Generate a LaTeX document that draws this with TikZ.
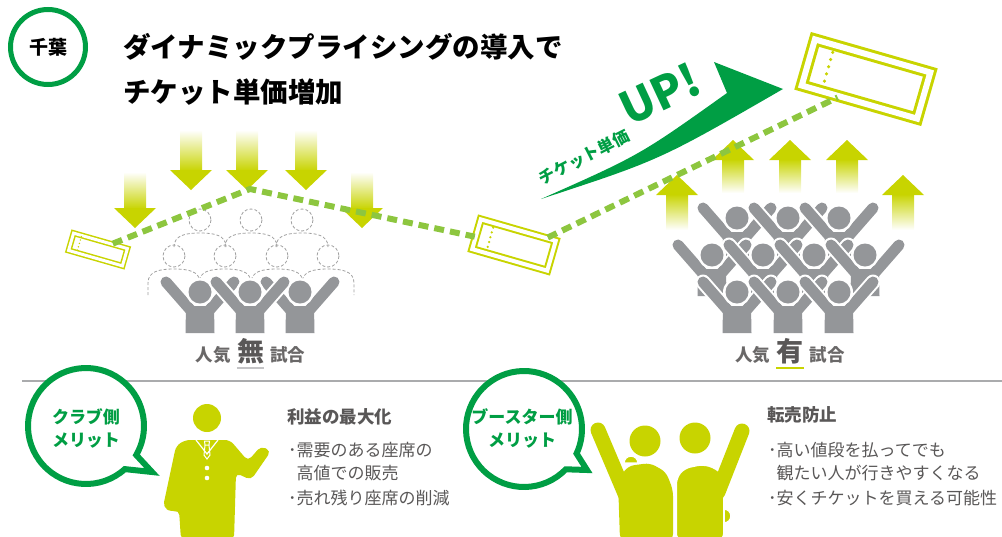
\documentclass[tikz,border=0pt]{standalone}
\usepackage{fontspec}
\setmainfont{Noto Sans CJK JP}
\newfontfamily\heavyfont{Noto Sans CJK JP Black}
\usetikzlibrary{calc,positioning}

\definecolor{chibagreen}{RGB}{0,158,68}
\definecolor{leaf}{RGB}{200,212,0}
\definecolor{dashgreen}{RGB}{141,198,63}
\definecolor{fangrey}{RGB}{148,150,153}
\definecolor{textgrey}{RGB}{89,87,87}
\definecolor{rulegrey}{RGB}{170,171,173}

% 文字サイズ（1pt = 1px）
\newcommand{\fsz}[1]{\fontsize{#1}{#1}\selectfont}

\tikzset{
  % 観客（両手を上げた人）
  pics/fan/.style={code={
    \draw[white, line width=15, line cap=round] (-34,-10) -- (-6,22) (34,-10) -- (6,22);
    \fill[white] (-16,11) -- (16,11) -- (16.5,43) -- (-16.5,43) -- cycle;
    \draw[fangrey, line width=11, line cap=round] (-34,-10) -- (-6,22) (34,-10) -- (6,22);
    \fill[fangrey] (-14,14) -- (14,14) -- (14.5,41) -- (-14.5,41) -- cycle;
    \fill[white] (0,0) circle (14);
    \fill[fangrey] (0,0) circle (11.5);
  }},
  % 空席（点線の人）
  pics/ghost/.style={code={
    \draw[ghostline] (0,0) circle (11);
    \draw[ghostline] (-26,#1) -- (-26,27) .. controls (-26,15) and (-14,13) .. (0,13)
      .. controls (14,13) and (26,15) .. (26,27) -- (26,#1);
  }},
  ghostline/.style={gray!75, line width=0.8, dash pattern=on 3pt off 2pt},
  ticket/.style={draw=leaf, double=white, rotate=-16, inner sep=0pt},
  tkdots/.style={leaf, line cap=round},
  trail/.style={dashgreen, line width=6, dash pattern=on 10pt off 6pt},
  titletext/.style={font=\heavyfont\fsz{27.5}, inner sep=0pt, anchor=west},
  poptext/.style={text=textgrey!90, font=\bfseries\fsz{17.5}, inner sep=0pt},
  popkey/.style={text=textgrey, font=\bfseries\fsz{27}, inner sep=0pt},
  bubble/.style={chibagreen, fill=white, line width=6},
  bubbletext/.style={text=chibagreen, font=\bfseries\fontsize{17}{23}\selectfont, align=center},
  merithead/.style={text=textgrey, font=\bfseries\fsz{17.5}, inner sep=0pt, anchor=west},
  merittext/.style={text=textgrey, font=\fsz{17}, inner sep=0pt, anchor=west},
}

\begin{document}
\begin{tikzpicture}[x=1pt, y=-1pt]
  \clip (0,0) rectangle (1002,536);

  % 見出し
  \node[circle, draw=chibagreen, line width=5, minimum size=75, font=\bfseries\fsz{19}] (chiba) at (48,47) {千葉};
  \node[titletext] (title1) at (123,47) {ダイナミックプライシングの導入で};
  \node[titletext] (title2) at (123,92) {チケット単価増加};

  % 人気のない試合：下向きの矢印
  \foreach \x/\t/\h/\e in {135/172/208/228, 191/130/170/190, 247/130/170/190, 306/130/170/190, 362/172/208/228}{
    \shade[top color=white, middle color=leaf!85, bottom color=leaf] (\x-11,\t) rectangle (\x+11,\h+1);
    \fill[leaf] (\x-21,\h) -- (\x+21,\h) -- (\x,\e) -- cycle;
  }
  % 空席と観客
  \foreach \x in {200,251,302} \pic at (\x,220) {ghost=27};
  \foreach \x in {174,225,277,328} \pic at (\x,256) {ghost=39};
  \foreach \x in {200,300,250} \pic at (\x,292) {fan};

  % 人気のある試合：上向きの矢印
  \foreach \x/\e/\h/\b in {677/175/195/230, 733/140/160/193, 790/140/160/193, 847/140/160/193, 903/175/195/230}{
    \shade[top color=leaf, middle color=leaf!85, bottom color=white] (\x-11,\h-1) rectangle (\x+11,\b);
    \fill[leaf] (\x-21,\h) -- (\x+21,\h) -- (\x,\e) -- cycle;
  }
  \foreach \x in {737,788,839} \pic at (\x,218) {fan};
  \foreach \x in {712,763,814,865} \pic at (\x,255) {fan};
  \foreach \x in {737,788,839} \pic at (\x,292) {fan};

  % チケット単価UP
  \fill[chibagreen] (541,199) .. controls (640,155) .. (727,93) -- (714,62) -- (783,89) .. controls (660,160) .. (541,199) -- cycle;
  \node[rotate=27, text=chibagreen, font=\bfseries\fsz{16.5}, inner sep=0pt] (tanka) at (584,157) {チケット単価};
  \node[rotate=25, text=chibagreen, font=\heavyfont\fsz{45}, inner sep=0pt] (up) at (660,94) {UP!};

  % チケット
  \node[ticket, line width=1.5, double distance=3, minimum width=56, minimum height=18] (lowtk) at (98,249.5) {};
  \node[ticket, line width=2, double distance=4, minimum width=78, minimum height=31] (midtk) at (514,245) {};
  \node[ticket, line width=3, double distance=6, minimum width=120, minimum height=48] (hightk) at (866,79) {};
  \draw[tkdots, line width=1.6, dash pattern=on 0pt off 3.5pt, shorten <=2, shorten >=2]
    ($(lowtk.north west)!0.16!(lowtk.north east)$) -- ($(lowtk.south west)!0.16!(lowtk.south east)$);
  \draw[tkdots, line width=2.5, dash pattern=on 0pt off 5pt, shorten <=5.5, shorten >=5.5]
    ($(midtk.north west)!0.19!(midtk.north east)$) -- ($(midtk.south west)!0.19!(midtk.south east)$);
  \draw[tkdots, line width=3.5, dash pattern=on 0pt off 7.5pt, shorten <=9, shorten >=9]
    ($(hightk.north west)!0.18!(hightk.north east)$) -- ($(hightk.south west)!0.18!(hightk.south east)$);

  % 価格の推移
  \coordinate (peak) at (250,189);
  \draw[trail] (lowtk) -- (peak) -- (midtk);
  \draw[trail] ($(midtk.north west)!0.88!(midtk.north east)$) -- ($(hightk.south west)!0.32!(hightk.south east)$);

  % 人気 無/有 試合
  \node[popkey] (nashi) at (250.5,351.5) {無};
  \node[poptext, base left=6pt of nashi] (nashi-l) {人気};
  \node[poptext, base right=6pt of nashi] (nashi-r) {試合};
  \draw[rulegrey!70, line width=2] ([yshift=-3pt]nashi.south west) -- ([yshift=-3pt]nashi.south east);
  \node[popkey] (ari) at (790,351.5) {有};
  \node[poptext, base left=6pt of ari] (ari-l) {人気};
  \node[poptext, base right=6pt of ari] (ari-r) {試合};
  \draw[leaf, line width=2] ([yshift=-3pt]ari.south west) -- ([yshift=-3pt]ari.south east);

  % 区切り線
  \draw[rulegrey, line width=2] (22,381) -- (1002,381);

  % クラブ側メリット
  \filldraw[bubble] (152,472) -- ($(86,426)+(48:58)$) arc[start angle=48, end angle=390, radius=58] -- cycle;
  \node[bubbletext] (club) at (86,428) {クラブ側\\メリット};
  \fill[leaf] (207,418) circle (14);
  \fill[leaf, rounded corners=5] (185,440) -- (230,440) -- (248,461) -- (261,446) -- (271,451) -- (251,480)
    -- (236,473) -- (234,540) -- (181,540) -- (179,510) -- (171,512) -- (163,507) -- (176,446) -- cycle;
  \draw[white, line width=1.2] (196,440) -- (207,454) -- (218,440);
  \draw[white, line width=1] (204.5,441) -- (209.5,441) -- (209,445) -- (205,445) -- cycle
    (205,445) -- (204,455) -- (207,459) -- (210,455) -- (209,445);
  \fill[white] (207,468) circle (2.3) (207,478) circle (2.3);
  \node[merithead] (club-h) at (287,417) {利益の最大化};
  \node[merittext] (club-1) at (288,450) {･需要のある座席の};
  \node[merittext] (club-2) at (288,473) {\phantom{･}高値での販売};
  \node[merittext] (club-3) at (288,498) {･売れ残り座席の削減};

  % ブースター側メリット
  \filldraw[bubble] (587,470) -- ($(524,429)+(44:58)$) arc[start angle=44, end angle=385, radius=58] -- cycle;
  \node[bubbletext] (booster) at (522,428) {ブースター側\\メリット};
  \draw[leaf, line width=15, line cap=round] (598,430) -- (626,496);
  \fill[leaf, rounded corners=6] (618,480) -- (628,466) -- (650,463) -- (666,472) -- (673,490) -- (673,540) -- (620,540) -- cycle;
  \fill[leaf] (645,441) circle (15.5);
  \filldraw[leaf, draw=white, line width=2, rounded corners=6] (676,540) -- (676,478) -- (684,468) -- (703,464) -- (716,468) -- (724,476) -- (724,540) -- cycle;
  \draw[leaf, line width=15, line cap=round] (742,431) -- (718,492);
  \fill[leaf] (695,438) circle (15.5);
  \filldraw[leaf, draw=white, line width=1.5] (624,463) arc[start angle=180, end angle=360, radius=7] -- cycle;
  \filldraw[leaf, draw=white, line width=1.5] (724,509) arc[start angle=-90, end angle=90, radius=7] -- cycle;
  \node[merithead] (booster-h) at (767,415) {転売防止};
  \node[merittext] (booster-1) at (768,450) {･高い値段を払ってでも};
  \node[merittext] (booster-2) at (768,473) {\phantom{･}観たい人が行きやすくなる};
  \node[merittext] (booster-3) at (768,498) {･安くチケットを買える可能性};
\end{tikzpicture}
\end{document}
